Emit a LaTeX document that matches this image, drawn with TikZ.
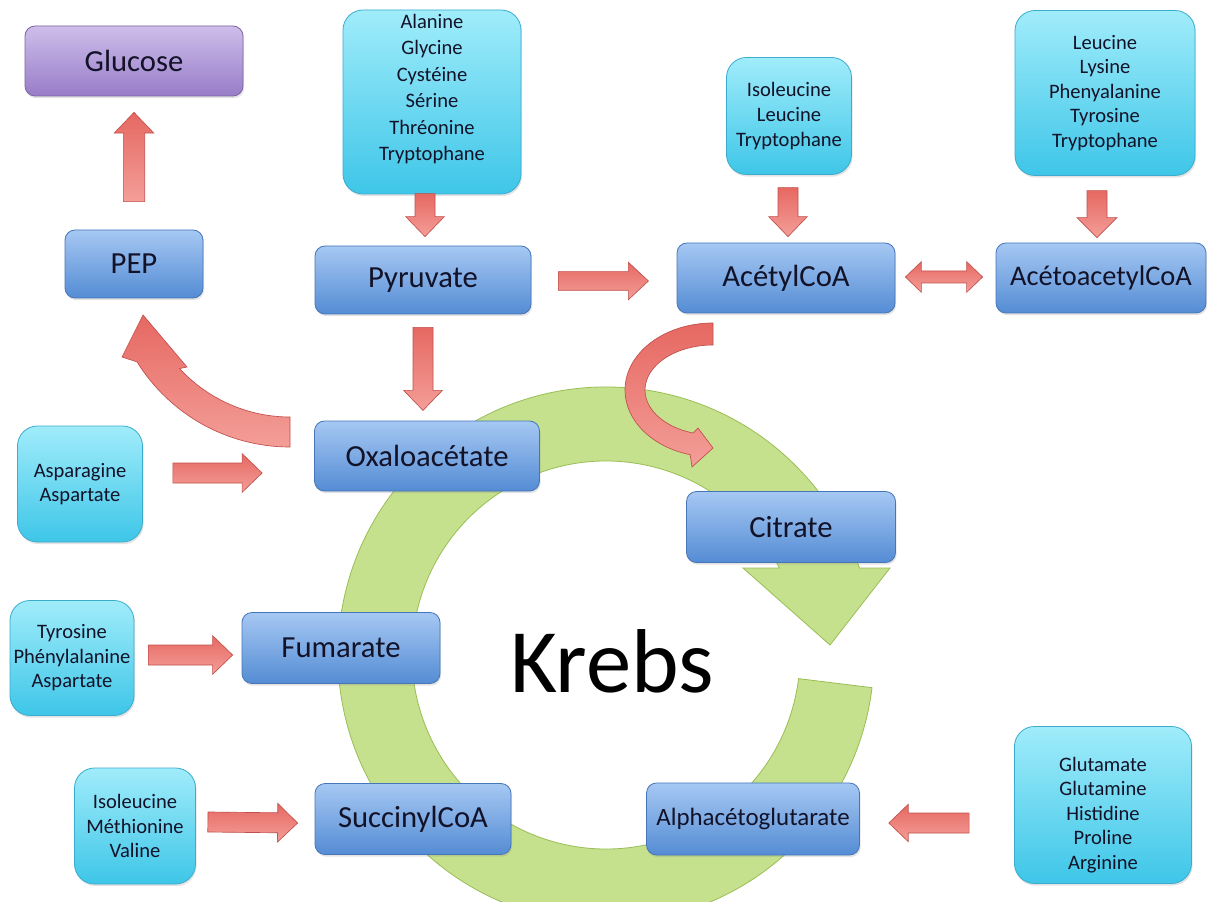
\documentclass[tikz,border=0pt]{standalone}
\usepackage{fontspec}
\setmainfont{Carlito}
\usetikzlibrary{calc,shadows}

\definecolor{boxT}{RGB}{166,200,243}
\definecolor{boxB}{RGB}{84,140,212}
\definecolor{boxD}{RGB}{70,118,184}
\definecolor{cyT}{RGB}{160,236,250}
\definecolor{cyB}{RGB}{62,198,232}
\definecolor{cyD}{RGB}{60,172,206}
\definecolor{puT}{RGB}{206,190,235}
\definecolor{puB}{RGB}{152,124,200}
\definecolor{puD}{RGB}{128,100,162}
\definecolor{arL}{RGB}{244,158,152}
\definecolor{arD}{RGB}{230,104,98}
\definecolor{arE}{RGB}{192,80,77}
\definecolor{ringF}{RGB}{198,225,142}
\definecolor{ringE}{RGB}{152,190,84}
\definecolor{ink}{RGB}{18,18,40}

\tikzset{
  boxshadow/.style={drop shadow={opacity=0.22,shadow xshift=0.8pt,shadow yshift=-1.6pt}},
  bluebox/.style={draw=boxD,line width=0.6pt,rounded corners=7.5pt,
    top color=boxT,bottom color=boxB,inner sep=0pt,text=ink,
    font=\fontsize{23}{27}\selectfont,boxshadow},
  purplebox/.style={bluebox,draw=puD,top color=puT,bottom color=puB},
  cyanbox/.style={draw=cyD,line width=0.6pt,rounded corners=15pt,
    top color=cyT,bottom color=cyB,inner sep=0pt,text=ink,align=center,
    font=\fontsize{15.4}{18.4}\selectfont,boxshadow},
  cyantext/.style={text=ink,align=center,inner sep=0pt,
    font=\fontsize{15.4}{18.4}\selectfont},
  redarrow/.style={draw=arE,line width=0.5pt,top color=arD,bottom color=arL},
  ring/.style={draw=ringE,line width=0.6pt,fill=ringF}
}

% straight block arrow: #1 from, #2 to, #3 shaft half width, #4 head half width, #5 head length
\newcommand\blockarrow[5]{%
  \path[redarrow] let \p1=#1, \p2=#2,
    \n1={veclen(\x2-\x1,\y2-\y1)}, \n2={atan2(\y2-\y1,\x2-\x1)} in
    [shift={(\p1)}, rotate=\n2]
    (0pt,#3) -- ({\n1-#5},#3) -- ({\n1-#5},#4) -- (\n1,0pt)
    -- ({\n1-#5},-#4) -- ({\n1-#5},-#3) -- (0pt,-#3) -- cycle;}

% double-headed block arrow, same arguments
\newcommand\blockarrowboth[5]{%
  \path[redarrow] let \p1=#1, \p2=#2,
    \n1={veclen(\x2-\x1,\y2-\y1)}, \n2={atan2(\y2-\y1,\x2-\x1)} in
    [shift={(\p1)}, rotate=\n2]
    (0pt,0pt) -- (#5,#4) -- (#5,#3) -- ({\n1-#5},#3) -- ({\n1-#5},#4) -- (\n1,0pt)
    -- ({\n1-#5},-#4) -- ({\n1-#5},-#3) -- (#5,-#3) -- (#5,-#4) -- cycle;}

\begin{document}
\begin{tikzpicture}[x=0.75pt,y=-0.75pt]
\useasboundingbox (0,0) rectangle (1207,902);
\clip (0,0) rectangle (1207,902);
\fill[white] (0,0) rectangle (1207,902);

% the cycle: a broad circular arrow
\coordinate (kc) at (606,655);
\path[ring] ($(kc)+(7:268)$) arc[start angle=7,end angle=341.06,radius=268]
  -- (890,568) -- (830,645) -- (743,568)
  -- ($(kc)+(333.36:194)$) arc[start angle=333.36,end angle=7,radius=194] -- cycle;

\node[font=\fontsize{68}{80}\selectfont,text=black,inner sep=0pt] (krebs) at (612,661) {Krebs};

% curved arrow Oxaloacetate -> PEP
\coordinate (c1) at (290,267);
\path[redarrow] ($(c1)+(90:180)$) arc[start angle=90,end angle=148.2,radius=180]
  -- (122,357) -- (143,315) -- (187,367)
  -- ($(c1)+(137.4:150)$) arc[start angle=137.4,end angle=90,radius=150] -- cycle;

% curved arrow AcetylCoA -> Citrate
\coordinate (c2) at (713,390);
\path[redarrow] ($(c2)+(270:88 and 67)$) arc[start angle=270,end angle=105,x radius=88,y radius=67]
  -- (692,467) -- (713,448) -- (698,428)
  -- ($(c2)+(107:68 and 45)$) arc[start angle=107,end angle=270,x radius=68,y radius=45] -- cycle;

% metabolites
\node[purplebox,minimum width=163.5pt,minimum height=52.5pt] (glucose) at (134,61) {Glucose};
\node[bluebox,minimum width=103.5pt,minimum height=51pt] (pep) at (134,264) {PEP};
\node[bluebox,minimum width=162pt,minimum height=51pt] (pyr) at (423,280) {Pyruvate};
\node[bluebox,minimum width=163.5pt,minimum height=52.5pt] (acetyl) at (786,278) {AcétylCoA};
\node[bluebox,minimum width=157.5pt,minimum height=52.5pt,font=\fontsize{21.3}{25}\selectfont] (aceto) at (1101,278) {AcétoacetylCoA};
\node[bluebox,minimum width=168.75pt,minimum height=52.5pt] (oxalo) at (427,456) {Oxaloacétate};
\node[bluebox,minimum width=156.75pt,minimum height=53.25pt] (citrate) at (791,527) {Citrate};
\node[bluebox,minimum width=148.5pt,minimum height=53.25pt] (fum) at (341,648) {Fumarate};
\node[bluebox,minimum width=147pt,minimum height=53.25pt] (succ) at (413,819) {SuccinylCoA};
\node[bluebox,minimum width=159.75pt,minimum height=54pt,font=\fontsize{18.7}{22}\selectfont] (alpha) at (753,819) {Alphacétoglutarate};

% amino acids
\node[cyanbox,minimum width=133.5pt,minimum height=138pt] (ala) at (432,102) {};
\node[cyantext,font=\fontsize{15.4}{19.8}\selectfont] (alat) at (432,89) {Alanine\\Glycine\\Cystéine\\Sérine\\Thréonine\\Tryptophane};
\node[cyanbox,minimum width=93.75pt,minimum height=87.75pt] (iso) at (789,116) {Isoleucine\\Leucine\\Tryptophane};
\node[cyanbox,minimum width=135pt,minimum height=123.75pt] (leu) at (1105,93) {Leucine\\Lysine\\Phenyalanine\\Tyrosine\\Tryptophane};
\node[cyanbox,minimum width=93.75pt,minimum height=87pt] (asp) at (80,484) {Asparagine\\Aspartate};
\node[cyanbox,minimum width=93pt,minimum height=86.25pt] (tyr) at (72,658) {Tyrosine\\Phénylalanine\\Aspartate};
\node[cyanbox,minimum width=90.75pt,minimum height=87pt] (imv) at (135,826) {Isoleucine\\Méthionine\\Valine};
\node[cyanbox,minimum width=132.75pt,minimum height=117.75pt] (glu) at (1103,805) {};
\node[cyantext] (glut) at (1103,815) {Glutamate\\Glutamine\\Histidine\\Proline\\Arginine};

% straight block arrows
\blockarrow{($(pep.north)+(0,-28)$)}{($(glucose.south)+(0,16)$)}{8pt}{14.8pt}{15.5pt}
\blockarrow{($(pyr.north)+(2,-52)$)}{($(pyr.north)+(2,-9)$)}{7.5pt}{14.5pt}{15pt}
\blockarrow{($(pyr.south)+(0,13)$)}{($(pyr.south)+(0,96)$)}{7.5pt}{14.5pt}{15pt}
\blockarrow{($(pyr.east)+(27,1)$)}{($(pyr.east)+(117,1)$)}{7pt}{14pt}{15pt}
\blockarrowboth{($(acetyl.east)+(10,-1)$)}{($(aceto.west)+(-13,-1)$)}{4.5pt}{11.5pt}{12pt}
\blockarrow{($(acetyl.north)+(2,-55)$)}{($(acetyl.north)+(2,-6)$)}{7.5pt}{14.5pt}{15pt}
\blockarrow{($(aceto.north)+(-4,-52)$)}{($(aceto.north)+(-4,-5)$)}{7.5pt}{15pt}{15pt}
\blockarrow{($(asp.east)+(30,-11)$)}{($(oxalo.west)+(-52,17)$)}{7.5pt}{14.5pt}{15pt}
\blockarrow{($(tyr.east)+(14,-3)$)}{($(fum.west)+(-9,7)$)}{7.5pt}{14.5pt}{15pt}
\blockarrow{($(imv.east)+(12,-4)$)}{($(succ.west)+(-17,4)$)}{7.5pt}{14.5pt}{15pt}
\blockarrow{($(glu.west)+(-45,18)$)}{($(alpha.east)+(29,4)$)}{7.5pt}{14pt}{14.5pt}
\end{tikzpicture}
\end{document}
